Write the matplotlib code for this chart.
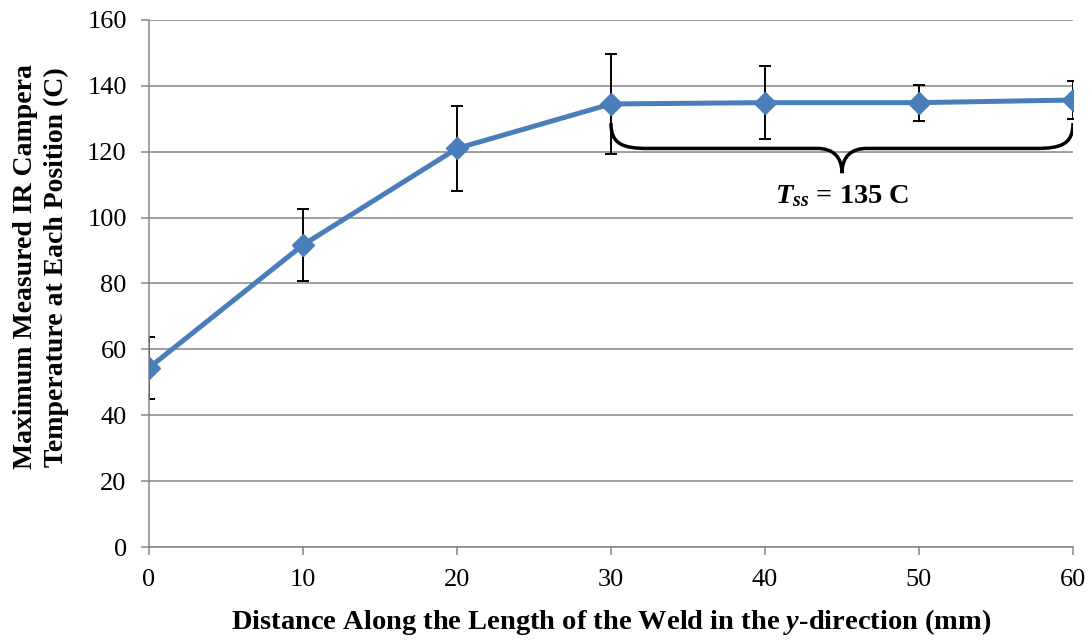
import matplotlib.pyplot as plt
import numpy as np
from matplotlib.path import Path
from matplotlib.patches import PathPatch

plt.rcParams['font.family'] = ['Liberation Serif', 'DejaVu Serif']
plt.rcParams['mathtext.fontset'] = 'custom'
plt.rcParams['mathtext.rm'] = 'Liberation Serif:bold'
plt.rcParams['mathtext.it'] = 'Liberation Serif:bold:italic'

# datos
distancia = [0, 10, 20, 30, 40, 50, 60]
temperatura = [54.4, 91.7, 121.0, 134.5, 134.9, 134.9, 135.7]
error = [9.5, 10.8, 12.8, 15.3, 11.0, 5.5, 5.9]
t_ss = 135

azul = '#4a7ebb'
gris = '#868686'

fig = plt.figure(figsize=(10.92, 6.40), dpi=100)
ax = fig.add_axes([0.1364, 0.1453, 0.8462, 0.8235])

ax.set_axisbelow(True)
ax.yaxis.grid(True, color=gris, linewidth=1.1)

ax.errorbar(distancia, temperatura, yerr=error, fmt='none', ecolor='black',
            elinewidth=1.4, capsize=4.5, capthick=1.4, zorder=2)
ax.plot(distancia, temperatura, color=azul, linewidth=3.6, marker='D',
        markersize=11, markerfacecolor=azul, markeredgecolor=azul, zorder=3)

ax.set_xlim(0, 60)
ax.set_ylim(0, 160)
ax.set_xticks(np.arange(0, 61, 10))
ax.set_yticks(np.arange(0, 161, 20))

for lado in ['top', 'right']:
    ax.spines[lado].set_visible(False)
for lado in ['left', 'bottom']:
    ax.spines[lado].set_color(gris)
    ax.spines[lado].set_linewidth(1.1)
ax.tick_params(axis='both', direction='out', length=6, width=1.1, color=gris,
               labelsize=19, pad=10)

# llave sobre el estado estacionario
x0, x1 = 30, 60
xm = (x0 + x1) / 2
yt, yb, yp = 128.7, 121.0, 113.5
vertices = [(x0, yt), (x0, yb + 1.2), (x0 + 0.8, yb), (x0 + 2.4, yb),
            (xm - 1.6, yb),
            (xm - 0.6, yb), (xm, yb - 2.5), (xm, yp),
            (xm, yb - 2.5), (xm + 0.6, yb), (xm + 1.6, yb),
            (x1 - 2.4, yb),
            (x1 - 0.8, yb), (x1, yb + 1.2), (x1, yt)]
codigos = [Path.MOVETO, Path.CURVE4, Path.CURVE4, Path.CURVE4,
           Path.LINETO,
           Path.CURVE4, Path.CURVE4, Path.CURVE4,
           Path.CURVE4, Path.CURVE4, Path.CURVE4,
           Path.LINETO,
           Path.CURVE4, Path.CURVE4, Path.CURVE4]
ax.add_patch(PathPatch(Path(vertices, codigos), facecolor='none',
                       edgecolor='black', linewidth=2.5, zorder=4))

ax.text(xm, 106.5, r'$T_{ss}$' + ' = %d C' % t_ss, ha='center', va='center',
        fontsize=20.5, fontweight='bold')

fig.text(41 / 1092, 1 - 267 / 640,
         'Maximum Measured IR Campera\nTemperature at Each Position (C)',
         rotation=90, ha='center', va='center', ma='center',
         fontsize=20, fontweight='bold', linespacing=1.3)
fig.text(611 / 1092, 1 - 622 / 640,
         'Distance Along the Length of the Weld in the $\\mathit{y}$-direction (mm)',
         ha='center', va='center', fontsize=20.5, fontweight='bold')

fig.savefig('out.png', dpi=100)
